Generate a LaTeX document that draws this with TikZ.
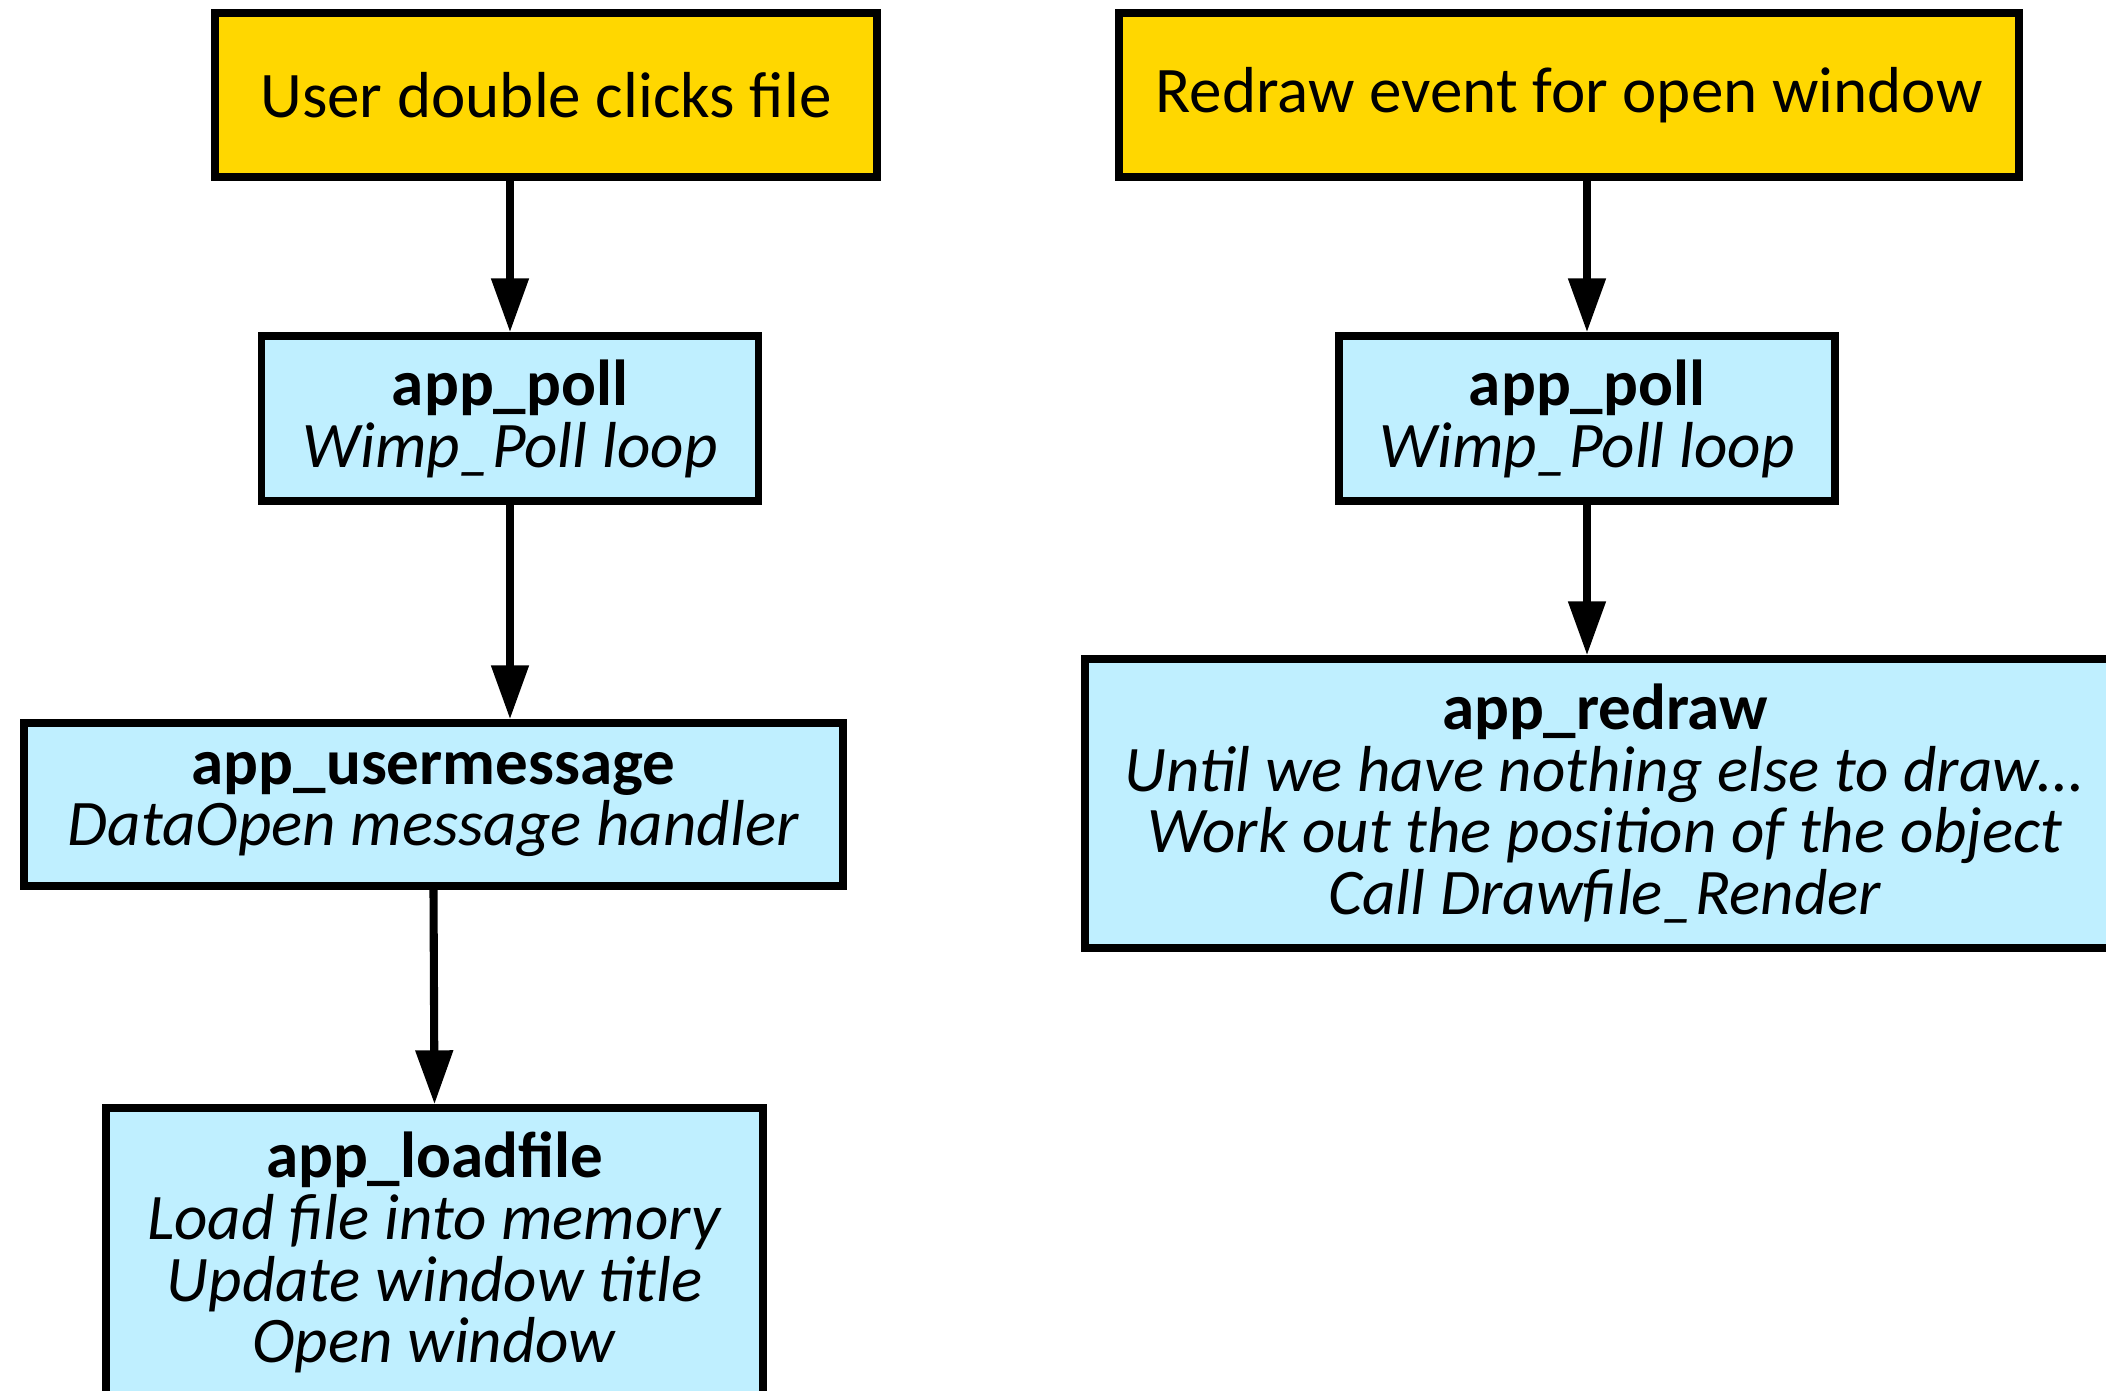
\documentclass[tikz,border=0pt]{standalone}
\usepackage{fontspec}
\setmainfont{Carlito}
\usetikzlibrary{arrows.meta,positioning}
\definecolor{eventyellow}{HTML}{FFD700}
\definecolor{funcblue}{HTML}{BFEFFF}
\tikzset{
  box/.style = {draw, line width = 2.1pt, align = center, inner sep = 0pt, font = \fontsize{18.5}{17.6}\selectfont},
  event/.style = {box, fill = eventyellow, minimum height = 1.64cm},
  func/.style = {box, fill = funcblue},
  call/.style = {-{Triangle[length = 5.4mm, width = 3.6mm]}, line width = 2.3pt}
}

\begin{document}
\begin{tikzpicture}
        \useasboundingbox (0,0) rectangle (21.06,-13.91);
        % left chain: opening a file
        \node [event, minimum width = 6.62cm] (dclick) at (5.46,-0.95) {User double clicks file};
        \node [func, minimum width = 4.97cm, minimum height = 1.65cm] (pollL) at (5.10,-4.185) {\textbf{app\_poll}\\\textit{Wimp\_Poll loop}};
        \node [func, minimum width = 8.19cm, minimum height = 1.63cm] (usermsg) at (4.335,-8.045) {\textbf{app\_usermessage}\\\textit{DataOpen message handler}};
        \node [func, minimum width = 6.57cm, minimum height = 2.89cm] (loadfile) at (4.345,-12.525) {\textbf{app\_loadfile}\\\textit{Load file into memory}\\\textit{Update window title}\\\textit{Open window}};
        % right chain: redrawing a window
        \node [event, minimum width = 9.00cm] (redrawev) at (15.69,-0.95) {Redraw event for open window};
        \node [func, minimum width = 4.96cm, minimum height = 1.65cm] (pollR) at (15.87,-4.185) {\textbf{app\_poll}\\\textit{Wimp\_Poll loop}};
        \node [func, minimum width = 10.40cm, minimum height = 2.89cm] (redraw) at (16.05,-8.035) {\textbf{app\_redraw}\\\textit{Until we have nothing else to draw...}\\\textit{Work out the position of the object}\\\textit{Call Drawfile\_Render}};
        \draw [call] (pollL.north |- dclick.south) -- (pollL.north);
        \draw [call] (pollL.south) -- (pollL.south |- usermsg.north);
        \draw [call] (usermsg.south) -- (loadfile.north);
        \draw [call] (pollR.north |- redrawev.south) -- (pollR.north);
        \draw [call] (pollR.south) -- (pollR.south |- redraw.north);
\end{tikzpicture}
\end{document}
